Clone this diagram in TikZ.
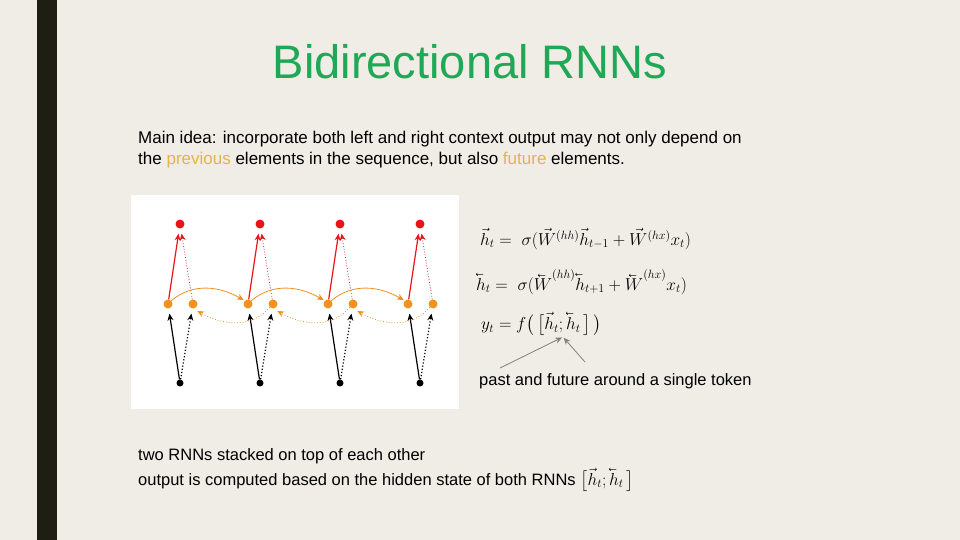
\documentclass[tikz,border=0pt]{standalone}
\usepackage{fontspec}
\setmainfont{Liberation Sans}
\usepackage{amsmath}
\usepackage{graphicx}
\usetikzlibrary{arrows.meta}
\definecolor{bg}{HTML}{EFEDE6}
\definecolor{bar}{HTML}{1E1E14}
\definecolor{ttl}{HTML}{1FA855}
\definecolor{hl}{HTML}{E6B24E}
\definecolor{org}{HTML}{F0921E}
\definecolor{rd}{HTML}{E8141A}
\newcommand{\fa}[1]{\vec{#1}}
\newcommand{\ba}[1]{\reflectbox{$\vec{\reflectbox{$#1$}}$}}
\begin{document}
\begin{tikzpicture}[x=1pt,y=-1pt,
  dot/.style={circle,inner sep=0pt,minimum size=9pt},
  tip/.style={-{Stealth[length=7pt,width=6pt]},shorten >=1pt},
  lbl/.style={anchor=west,inner sep=0pt,font=\fontsize{16.5}{19}\selectfont}]
\fill[bg] (0,0) rectangle (960,540);
\useasboundingbox (0,0) rectangle (960,540);
\fill[bar] (37,0) rectangle (57,540);
\node[text=ttl,font=\fontsize{47}{52}\selectfont] (title) at (470,62) {Bidirectional RNNs};
\node[lbl,align=left,anchor=north west,font=\fontsize{17}{21}\selectfont] (idea) at (138,131) {Main idea: incorporate both left and right context output may not only depend on\\the \textcolor{hl}{previous} elements in the sequence, but also \textcolor{hl}{future} elements.};
\fill[white] (131,195) rectangle (459,409);
\foreach \i/\x in {1/180,2/260,3/340,4/420}{
  \node[dot,fill=rd] (y\i) at (\x,224) {};
  \node[dot,fill=black,minimum size=7pt] (x\i) at (\x,383) {};
  \node[dot,fill=org] (f\i) at (\x-12,304) {};
  \node[dot,fill=org] (b\i) at (\x+13,304) {};
  \draw[tip,very thick,shorten >=5pt] (x\i) -- (f\i);
  \draw[tip,very thick,dotted,shorten >=5pt] (x\i) -- (b\i);
  \draw[tip,rd,very thick,shorten >=5pt] (f\i) -- (y\i);
  \draw[tip,rd,thick,dotted,shorten >=5pt] (b\i) -- (y\i);
}
\foreach \a/\b in {1/2,2/3,3/4}{
  \draw[tip,org,thick] (f\a.north east) to[out=40,in=150] (f\b.north west);
  \draw[tip,org,thick,dotted] (b\b.south west) to[out=-130,in=-30] ([yshift=-3pt]b\a.south east);
}
\node[lbl,anchor=west,font=\fontsize{17}{20}\selectfont] (e1) at (480,239) {$\fa{h}_t = \;\sigma(\fa{W}^{(hh)}\fa{h}_{t-1}+\fa{W}^{(hx)}x_t)$};
\node[lbl,anchor=west,font=\fontsize{17}{20}\selectfont] (e2) at (476,282) {$\ba{h}_t = \;\sigma(\ba{W}^{(hh)}\ba{h}_{t+1}+\ba{W}^{(hx)}x_t)$};
\node[lbl,anchor=west,font=\fontsize{17}{20}\selectfont] (e3) at (481,324) {$y_t = f\big(\,\big[\fa{h}_t;\ba{h}_t\,\big]\,\big)$};
\coordinate (m) at (563,337);
\coordinate (p1) at (500,368);
\coordinate (p2) at (585,362);
\draw[gray,thick,tip] (p1) -- (m);
\draw[gray,thick,tip] (p2) -- (m);
\node[lbl] (cap) at (479,381) {past and future around a single token};
\node[lbl,align=left,anchor=north west,font=\fontsize{16.5}{25}\selectfont] (stk) at (138,448) {two RNNs stacked on top of each other\\output is computed based on the hidden state of both RNNs $\big[\fa{h}_t;\ba{h}_t\,\big]$};
\end{tikzpicture}
\end{document}
